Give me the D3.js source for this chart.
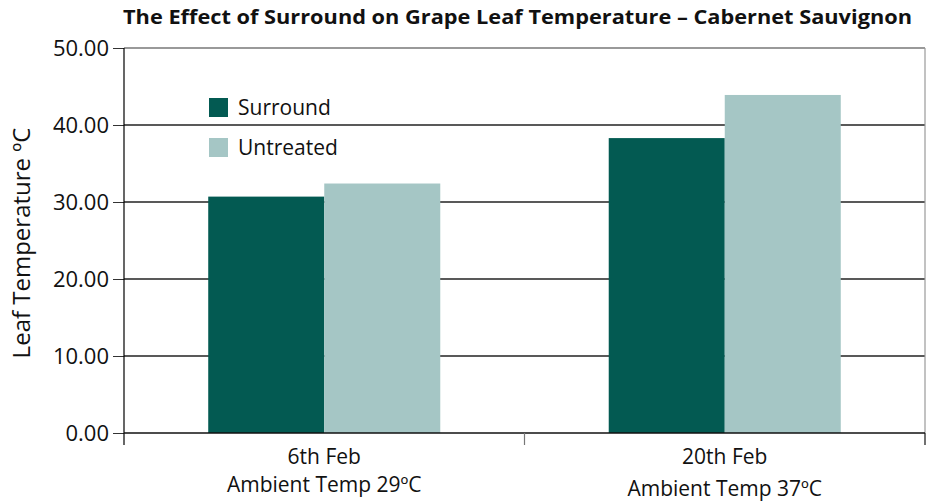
<!DOCTYPE html>
<html>
<head>
<meta charset="utf-8">
<script src="https://cdn.jsdelivr.net/npm/d3@7"></script>
<style>
  body { margin: 0; background: #fff; }
  text { font-family: "Open Sans", "DejaVu Sans", sans-serif; fill: #111; }
</style>
</head>
<body>
<svg id="chart" width="935" height="504"></svg>
<script>
const categories = [['6th Feb', 'Ambient Temp 29ºC'], ['20th Feb', 'Ambient Temp 37ºC']];
const seriesNames = ['Surround', 'Untreated'];
const surround = [30.7, 38.3];
const untreated = [32.4, 43.9];
const yTicks = [0, 10, 20, 30, 40, 50];
const colors = ['#035a52', '#a5c6c5'];

const margin = { top: 48, right: 10, bottom: 71, left: 124 };
const width = 935 - margin.left - margin.right;
const height = 504 - margin.top - margin.bottom;

const svg = d3.select('#chart');
const g = svg.append('g').attr('transform', `translate(${margin.left},${margin.top})`);

const catKeys = categories.map(c => c[0]);
const x0 = d3.scaleBand().domain(catKeys).range([0, width]).paddingInner(0).paddingOuter(0);
const x1 = d3.scaleBand().domain(seriesNames).range([0, x0.bandwidth()]).paddingInner(0).paddingOuter(0.726);
const y = d3.scaleLinear().domain([0, 50]).range([height, 0]);

// gridlines
g.append('g')
  .selectAll('line')
  .data(yTicks.filter(t => t > 0 && t < 50))
  .enter().append('line')
  .attr('x1', 0).attr('x2', width)
  .attr('y1', d => y(d)).attr('y2', d => y(d))
  .attr('stroke', '#222').attr('stroke-width', 1.4);

// top + right border
g.append('line').attr('x1', 0).attr('x2', width).attr('y1', 0).attr('y2', 0)
  .attr('stroke', '#777').attr('stroke-width', 1.3);
g.append('line').attr('x1', width).attr('x2', width).attr('y1', 0).attr('y2', height)
  .attr('stroke', '#999').attr('stroke-width', 1.2);

// bars
const rows = catKeys.map((c, i) => ({ cat: c, values: [surround[i], untreated[i]] }));
g.selectAll('.grp')
  .data(rows)
  .enter().append('g')
  .attr('class', 'grp')
  .attr('transform', d => `translate(${x0(d.cat)},0)`)
  .selectAll('rect')
  .data(d => d.values.map((v, i) => ({ key: seriesNames[i], value: v, i })))
  .enter().append('rect')
  .attr('x', d => x1(d.key))
  .attr('y', d => y(d.value))
  .attr('width', x1.bandwidth())
  .attr('height', d => height - y(d.value))
  .attr('fill', d => colors[d.i]);

// y axis
const yAxis = g.append('g')
  .call(d3.axisLeft(y).tickValues(yTicks).tickFormat(d3.format('.2f')).tickSize(11).tickPadding(4).tickSizeOuter(0));
yAxis.select('.domain').remove();
yAxis.append('line').attr('x1', 0).attr('x2', 0).attr('y1', 0).attr('y2', height + 12)
  .attr('stroke', '#000').attr('stroke-width', 1.2);
yAxis.selectAll('.tick line').attr('stroke', '#333');
yAxis.selectAll('.tick text').style('font-size', '22px').attr('fill', '#111');

// x axis
const xAxis = g.append('g').attr('transform', `translate(0,${height})`);
xAxis.append('line').attr('x1', 0).attr('x2', width).attr('y1', 0).attr('y2', 0)
  .attr('stroke', '#111').attr('stroke-width', 1.5);
xAxis.selectAll('.sep')
  .data(catKeys.slice(1).concat(['end']))
  .enter().append('line')
  .attr('x1', d => d === 'end' ? width : x0(d))
  .attr('x2', d => d === 'end' ? width : x0(d))
  .attr('y1', 0).attr('y2', 12)
  .attr('stroke', d => d === 'end' ? '#111' : '#777').attr('stroke-width', 1.2);

const xl = xAxis.selectAll('.xl')
  .data(categories)
  .enter().append('g')
  .attr('class', 'xl');
xl.append('text')
  .attr('text-anchor', 'middle')
  .attr('x', d => x0(d[0]) + x0.bandwidth() / 2)
  .attr('y', 31)
  .style('font-size', '21px')
  .text(d => d[0]);
xl.append('text')
  .attr('text-anchor', 'middle')
  .attr('x', d => x0(d[0]) + x0.bandwidth() / 2)
  .attr('y', (d, i) => i === 0 ? 59 : 63)
  .style('font-size', '21px')
  .text(d => d[1]);

// y label
svg.append('text')
  .attr('transform', 'translate(30,243) rotate(-90)')
  .attr('text-anchor', 'middle')
  .style('font-size', '24px')
  .text('Leaf Temperature ºC');

// title
svg.append('text')
  .attr('x', 123).attr('y', 24)
  .attr('textLength', 789)
  .attr('lengthAdjust', 'spacingAndGlyphs')
  .style('font-size', '19px')
  .style('font-weight', 'bold')
  .text('The Effect of Surround on Grape Leaf Temperature – Cabernet Sauvignon');

// legend
const legend = svg.append('g').attr('transform', 'translate(209,98)');
legend.selectAll('rect')
  .data(seriesNames)
  .enter().append('rect')
  .attr('x', 0).attr('y', (d, i) => i * 40)
  .attr('width', 19).attr('height', 19)
  .attr('fill', (d, i) => colors[i]);
legend.selectAll('text')
  .data(seriesNames)
  .enter().append('text')
  .attr('x', 29).attr('y', (d, i) => i * 40 + 17)
  .style('font-size', '21px')
  .text(d => d);
</script>
</body>
</html>
